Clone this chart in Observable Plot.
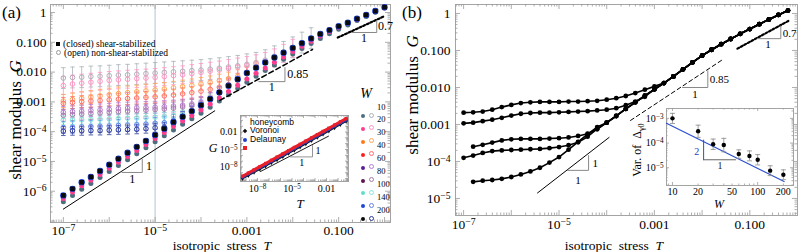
<!DOCTYPE html>
<html><head><meta charset="utf-8">
<script src="https://cdn.jsdelivr.net/npm/d3@7"></script>
<script src="https://cdn.jsdelivr.net/npm/@observablehq/plot@0.6"></script>
<style>
html,body{margin:0;padding:0;background:#fff}
#root{position:relative;width:800px;height:252px;overflow:hidden;font-family:"Liberation Serif","Times New Roman",serif;color:#000}
.t{position:absolute;white-space:pre;line-height:1}
</style></head><body><div id="root"></div>
<script>
// ================= DATA =================
// Panel (a): log10 of isotropic stress T for each simulated point
const logT_a = [-7,-6.8,-6.6,-6.4,-6.2,-6,-5.8,-5.6,-5.4,-5.2,-5,-4.8,-4.6,-4.4,-4.2,-4,-3.8,-3.6,-3.4,-3.2,-3,-2.8,-2.6,-2.4,-2.2,-2,-1.8,-1.6,-1.4,-1.2,-1,-0.8,-0.6,-0.4,-0.2,0];
const W = [10,20,30,40,60,80,100,140,200];
// closed (shear-stabilized), log10 G
const closedMain = [-6.14,-5.92,-5.70,-5.52,-5.32,-5.11,-4.91,-4.71,-4.51,-4.31,-4.11,-3.90,-3.68,-3.50,-3.31,-3.11,-2.90,-2.68,-2.46,-2.24,-2.03,-1.85,-1.68,-1.51,-1.35,-1.19,-1.03,-0.87,-0.72,-0.59,-0.46,-0.34,-0.21,-0.08,0.05,0.18];
const closedW20 = [-6.24,-6.03,-5.82,-5.63,-5.44,-5.23,-5.03,-4.83,-4.63,-4.43,-4.23,-4.03,-3.82,-3.64,-3.46,-3.27,-3.07,-2.86,-2.65,-2.44,-2.23,-2.04,-1.86,-1.67,-1.49,-1.31,-1.13,-0.96,-0.79,-0.64,-0.50,-0.37,-0.24,-0.10,0.03,0.16];
const closedW10 = [-6.35,-6.14,-5.93,-5.74,-5.54,-5.34,-5.14,-4.94,-4.74,-4.54,-4.34,-4.14,-3.94,-3.75,-3.57,-3.38,-3.18,-2.97,-2.76,-2.55,-2.34,-2.14,-1.95,-1.76,-1.57,-1.39,-1.21,-1.04,-0.87,-0.71,-0.56,-0.42,-0.27,-0.13,0.01,0.15];
// open (non-shear-stabilized), log10 G, from T = 1e-7 upward
const openW10 = [-2.20,-2.18,-2.17,-2.15,-2.14,-2.12,-2.10,-2.09,-2.07,-2.05,-2.03,-2.01,-1.99,-1.97,-1.95,-1.93,-1.90,-1.87,-1.83,-1.79,-1.74,-1.69,-1.60,-1.47,-1.32,-1.17,-1.01,-0.86];
const openW20 = [-2.45,-2.40,-2.37,-2.34,-2.31,-2.28,-2.26,-2.24,-2.22,-2.20,-2.18,-2.15,-2.12,-2.09,-2.05,-2.01,-1.97,-1.93,-1.88,-1.83,-1.78,-1.72,-1.64,-1.52,-1.37,-1.20];
const openW30 = [-2.97,-2.92,-2.88,-2.84,-2.80,-2.76,-2.72,-2.69,-2.66,-2.63,-2.60,-2.57,-2.53,-2.49,-2.45,-2.40,-2.35,-2.29,-2.22,-2.14,-2.03,-1.85];
const openW40 = [-3.05,-3.02,-2.99,-2.97,-2.95,-2.93,-2.91,-2.89,-2.87,-2.85,-2.83,-2.80,-2.77,-2.73,-2.69,-2.64,-2.58,-2.51,-2.42,-2.24,-2.03];
const openW60 = [-3.35,-3.33,-3.31,-3.29,-3.27,-3.25,-3.23,-3.21,-3.20,-3.19,-3.18,-3.16,-3.14,-3.11,-3.07,-3.02,-2.88,-2.70,-2.46];
const openW80 = [-3.45,-3.43,-3.41,-3.39,-3.37,-3.35,-3.33,-3.31,-3.30,-3.28,-3.26,-3.24,-3.21,-3.17,-3.12,-3.06,-2.90,-2.69];
const openW100 = [-3.62,-3.61,-3.60,-3.59,-3.58,-3.57,-3.56,-3.55,-3.54,-3.53,-3.52,-3.50,-3.47,-3.43,-3.30,-3.13,-2.92];
const openW140 = [-3.86,-3.85,-3.84,-3.83,-3.82,-3.81,-3.79,-3.78,-3.77,-3.75,-3.72,-3.70,-3.62,-3.52,-3.34,-3.14];
const openW200 = [-3.98,-3.97,-3.97,-3.96,-3.96,-3.95,-3.94,-3.93,-3.92,-3.90,-3.87,-3.85,-3.66,-3.49,-3.31];
const openErr = [0.35,0.3,0.22,0.2,0.2,0.2,0.15,0.2,0.15]; // half error bar, decades
// slope guides (log10 T, log10 G)
const slope1A = [[-7,-6.6],[-3.7,-3.3]];
const tri1A = [[-5.72,-5.37],[-5.28,-5.37],[-5.28,-4.93]];
const slope085A = [[-3.59,-2.95],[-1.57,-1.24]];
const tri085A = [[-2.74,-2.32],[-2.17,-2.32],[-2.17,-1.85]];
const slope07A = [[-1.02,-0.84],[0.0,-0.12]];
const tri07A = [[-0.72,-0.67],[-0.17,-0.67],[-0.17,-0.28]];
const triSideA = [["1",-5.2,-5.15],["0.85",-2.12,-2.08],["0.7",-0.14,-0.47]];
const triBaseA = [["1",-5.5,-5.6],["1",-2.46,-2.52],["1",-0.45,-0.87]];
// axis ticks
const xTicksA = [1e-7,1e-5,1e-3,1e-1], xLabelsA = ["10^\u22127","10^\u22125","0.001","0.100"];
const yTicksA = [1,0.1,0.01,0.001,1e-4,1e-5,1e-6], yLabelsA = ["1","0.100","0.010","0.001","10^\u22124","10^\u22125","10^\u22126"];

// Inset (a): G vs T for three networks
const logT_ia = [-9.3,-8.8,-8.3,-7.8,-7.3,-6.8,-6.3,-5.8,-5.3,-4.8,-4.3,-3.8,-3.3,-2.8,-2.3,-1.8,-1.3,-0.8,-0.3];
const honeycomb = [-9.85,-9.32,-8.78,-8.24,-7.70,-7.16,-6.62,-6.07,-5.53,-4.98,-4.43,-3.88,-3.33,-2.78,-2.23,-1.68,-1.13,-0.58,-0.03];
const voronoi = [-9.72,-9.18,-8.64,-8.10,-7.56,-7.02,-6.47,-5.92,-5.38,-4.83,-4.28,-3.73,-3.18,-2.63,-2.08,-1.53,-0.98,-0.43,0.12];
const delaunay = [-9.60,-9.05,-8.50,-7.95,-7.40,-6.85,-6.30,-5.75,-5.20,-4.65,-4.10,-3.55,-3.00,-2.45,-1.90,-1.35,-0.80,-0.25,0.30];
const slopeIA = [[-7.74,-8.78],[-1.83,-2.72]];
const triIA = [[-5.13,-6.28],[-3.22,-6.28],[-3.22,-4.33]];
const triSideIA = [["1",-2.95,-5.2]], triBaseIA = [["1",-4.15,-7.25]];
const xTicksIA = [1e-8,1e-5,1e-2], xLabelsIA = ["10^\u22128","10^\u22125","0.01"];
const yTicksIA = [1e-2,1e-5,1e-8], yLabelsIA = ["0.01","10^\u22125","10^\u22128"];

// Panel (b): log10 T grid and log10 G curves
const logT_b = [-7,-6.8,-6.6,-6.4,-6.2,-6,-5.8,-5.6,-5.4,-5.2,-5,-4.8,-4.6,-4.4,-4.2,-4,-3.8,-3.6,-3.4,-3.2,-3,-2.8,-2.6,-2.4,-2.2,-2,-1.8,-1.6,-1.4,-1.2,-1,-0.8,-0.6,-0.4,-0.2];
const masterB = [-2.95,-2.77,-2.58,-2.40,-2.22,-2.05,-1.88,-1.70,-1.51,-1.32,-1.14,-0.98,-0.83,-0.69,-0.55,-0.42,-0.29,-0.16,-0.04,0.08]; // grid index 15..34
const curveB1 = [-2.68,-2.67,-2.65,-2.60,-2.53,-2.47,-2.42,-2.40,-2.39,-2.39,-2.39,-2.38,-2.38,-2.37,-2.36,-2.33,-2.29,-2.23,-2.15,-2.06,-1.97];
const curveB2 = [-2.97,-2.95,-2.91,-2.87,-2.82,-2.76,-2.71,-2.69,-2.68,-2.68,-2.67,-2.66,-2.65,-2.64,-2.62,-2.60,-2.56,-2.48,-2.38,-2.25];
const curveB3 = [-3.60,-3.55,-3.49,-3.43,-3.40,-3.39,-3.39,-3.39,-3.38,-3.37,-3.35,-3.31,-3.25,-3.13];
const curveB4 = [-3.90,-3.84,-3.77,-3.72,-3.70,-3.69,-3.68,-3.67,-3.66,-3.64,-3.61,-3.56,-3.48,-3.33,-3.12];
const curveB5 = [-4.55,-4.52,-4.50,-4.47,-4.42,-4.35,-4.27,-4.17,-4.03,-3.88,-3.68,-3.47,-3.26,-3.07];
const curveStartB = [0,0,1,0,1];
const slope1B = [[-5.45,-4.85],[-3.95,-3.35]];
const tri1B = [[-4.82,-4.24],[-4.38,-4.24],[-4.38,-3.84]];
const slope085B = [[-3.5,-2.89],[-1.55,-1.23]];
const tri085B = [[-2.41,-2.0],[-1.88,-2.0],[-1.88,-1.55]];
const slope07B = [[-1.26,-0.95],[-0.19,-0.2]];
const tri07B = [[-0.84,-0.68],[-0.35,-0.68],[-0.35,-0.34]];
const triSideB = [["1",-4.3,-4.05],["0.85",-1.84,-1.78],["0.7",-0.31,-0.53]];
const triBaseB = [["1",-4.6,-4.5],["1",-2.15,-2.2],["1",-0.62,-0.84]];
const xTicksB = xTicksA, xLabelsB = xLabelsA, yTicksB = [1,0.1,0.01,0.001,1e-4,1e-5], yLabelsB = ["1","0.100","0.010","0.001","10^\u22124","10^\u22125"];

// Inset (b): variance of Delta_gamma0 vs W
const Wi = [10,20,30,40,60,80,100,140,200];
const varD = [1.0e-3,3.0e-4,9.0e-5,8.3e-5,3.6e-5,3.0e-5,2.1e-5,7.6e-6,5.2e-6];
const varLo = [6.2e-4,1.7e-4,5.5e-5,4.4e-5,2.4e-5,1.9e-5,1.3e-5,4.8e-6,3.3e-6];
const varHi = [1.6e-3,5.3e-4,1.45e-4,1.55e-4,5.3e-5,4.8e-5,3.4e-5,1.2e-5,8.2e-6];
const fitB = [[8.5,6.3e-4],[204,2.75e-6]];
const triVertB = [[23.2,1.32e-4],[23.2,2.1e-5]];
const triHorzB = [[23.2,2.1e-5],[55,2.1e-5]];
const triLabIB = [["2",19.3,4.4e-5,"#2040c0"],["1",36,1.15e-5,"#222"]];
const xTicksIB = [10,20,50,100,200], xLabelsIB = ["10","20","50","100","200"];
const yTicksIB = [1e-3,1e-4,1e-5], yLabelsIB = ["10^\u22123","10^\u22124","10^\u22125"];

// ================= STYLE =================
const closedColors = ["#4e6e80","#ff3d8e","#ff7a1a","#ff1f1f","#5c1d9c","#5e1750","#5ee0c8","#1f46d8","#0a0a0a"];
const openColors = ["#aab4b8","#ff97c4","#ffa65a","#ff6e6e","#b67ad6","#a87aa8","#86eadb","#6680ee","#2d3c96"];
const frameCol = "#a4a4a4", tickCol = "#9a9a9a";
const SERIF = "'Liberation Serif','Times New Roman',serif";

// ================= HELPERS =================
const L10 = v => 10 ** v;
const root = document.getElementById("root");
const NS = "http://www.w3.org/2000/svg";
function logTicks(lo, hi) {
  const out = [];
  for (let e = Math.floor(Math.log10(lo)) - 1; e <= Math.ceil(Math.log10(hi)); e++)
    for (let m = 1; m < 10; m++) { const v = m * Math.pow(10, e); if (v >= lo * 1.0001 && v <= hi * 0.9999) out.push({v, major: m === 1}); }
  return out;
}
function frameTicks(xd, yd, fw, fh, Lmaj, Lmin) {
  const xt = logTicks(...xd), yt = logTicks(...yd), res = [];
  for (const maj of [true, false]) {
    const len = maj ? Lmaj : Lmin;
    const xs = xt.filter(d => d.major === maj), ys = yt.filter(d => d.major === maj);
    const o = {stroke: tickCol, strokeWidth: 0.8};
    res.push(Plot.ruleX(xs, {x: "v", insetTop: fh - len, ...o}));
    res.push(Plot.ruleX(xs, {x: "v", insetBottom: fh - len, ...o}));
    res.push(Plot.ruleY(ys, {y: "v", insetRight: fw - len, ...o}));
    res.push(Plot.ruleY(ys, {y: "v", insetLeft: fw - len, ...o}));
  }
  return res;
}
function fmt(vals, labels) { const m = new Map(vals.map((v, i) => [v, labels[i]])); return d => m.get(d); }
function supers(svg) {
  svg.querySelectorAll("text").forEach(t => {
    if (t.children.length) return;
    const m = t.textContent.match(/^(.*)\^(.+)$/);
    if (!m) return;
    t.textContent = m[1];
    const ts = document.createElementNS(NS, "tspan");
    ts.setAttribute("dy", "-0.42em"); ts.setAttribute("font-size", "72%");
    ts.textContent = m[2];
    t.appendChild(ts);
  });
}
function place(svg, left, top) {
  svg.style.position = "absolute"; svg.style.left = left + "px"; svg.style.top = top + "px";
  svg.style.overflow = "visible"; svg.style.background = "transparent";
  supers(svg); root.appendChild(svg);
}
function html(str, css) { const d = document.createElement("div"); d.className = "t"; d.innerHTML = str; Object.assign(d.style, css); root.appendChild(d); return d; }
const hline = {draw(ctx, size) { const r = Math.sqrt(size / Math.PI); ctx.moveTo(-r, 0); ctx.lineTo(r, 0); }};
const xy = {x: d => L10(d[0]), y: d => L10(d[1])};

// ================= PANEL (a) =================
{
  const xd = [L10(-7.28), L10(0.13)], yd = [L10(-7.05), L10(0.27)];
  const fw = 340, fh = 218;
  const openSets = [openW10,openW20,openW30,openW40,openW60,openW80,openW100,openW140,openW200];
  const openRows = openSets.flatMap((arr, s) => arr.map((g, k) => ({T: L10(logT_a[k]), G: L10(g), lo: L10(g - openErr[s]), hi: L10(g + openErr[s]), s})));
  const closedSets = [closedW10, closedW20, closedMain, closedMain, closedMain, closedMain, closedMain, closedMain, closedMain];
  const closedRows = closedSets.flatMap((arr, s) => arr.map((g, k) => ({T: L10(logT_a[k]), G: L10(g), s})));
  const oc = d => openColors[d.s];
  const svg = Plot.plot({
    width: 400, height: 252, marginLeft: 50, marginRight: 10, marginTop: 4, marginBottom: 30,
    x: {type: "log", domain: xd}, y: {type: "log", domain: yd},
    style: {fontFamily: SERIF, fontSize: "13.5px", color: "#000"},
    marks: [
      Plot.frame({stroke: frameCol}),
      Plot.ruleX([1e-5], {stroke: "#c6d7dc", strokeWidth: 1.4}),
      ...frameTicks(xd, yd, fw, fh, 5, 2.5),
      Plot.ruleX(openRows, {x: "T", y1: "lo", y2: "hi", stroke: oc, strokeWidth: 0.8}),
      Plot.dot(openRows, {x: "T", y: "lo", symbol: hline, r: 2.3, stroke: oc, strokeWidth: 0.8}),
      Plot.dot(openRows, {x: "T", y: "hi", symbol: hline, r: 2.3, stroke: oc, strokeWidth: 0.8}),
      Plot.dot(openRows, {x: "T", y: "G", r: 2.3, stroke: oc, fill: "none", strokeWidth: 1}),
      Plot.dot(closedRows.filter(d => d.s < 7), {x: "T", y: "G", r: 2.5, fill: d => closedColors[d.s]}),
      Plot.dot(closedRows.filter(d => d.s === 7), {x: "T", y: "G", r: 3.2, fill: closedColors[7]}),
      Plot.dot(closedRows.filter(d => d.s === 8), {x: "T", y: "G", r: 2.6, symbol: "square", fill: closedColors[8]}),
      Plot.line(slope1A, {...xy, stroke: "#000", strokeWidth: 1}),
      Plot.line(tri1A, {...xy, stroke: "#888", strokeWidth: 1}),
      Plot.line(slope085A, {...xy, stroke: "#000", strokeWidth: 1.5, strokeDasharray: "5,3"}),
      Plot.line(tri085A, {...xy, stroke: "#888", strokeWidth: 1}),
      Plot.line(slope07A, {...xy, stroke: "#000", strokeWidth: 2.2, strokeDasharray: "2,2"}),
      Plot.line(tri07A, {...xy, stroke: "#888", strokeWidth: 1}),
      Plot.text(triSideA, {x: d => L10(d[1]), y: d => L10(d[2]), text: d => d[0], textAnchor: "start", fontSize: 12}),
      Plot.text(triBaseA, {x: d => L10(d[1]), y: d => L10(d[2]), text: d => d[0], fontSize: 12}),
      Plot.axisX({ticks: xTicksA, tickFormat: fmt(xTicksA, xLabelsA), tickSize: 0, tickPadding: 3, label: null}),
      Plot.axisY({ticks: yTicksA, tickFormat: fmt(yTicksA, yLabelsA), tickSize: 0, tickPadding: 4, label: null})
    ]
  });
  place(svg, 0, 0);
}

// ================= INSET (a) =================
{
  const xd = [L10(-9.48), L10(-0.09)], yd = [L10(-10.5), L10(0.83)];
  const fw = 108, fh = 66;
  const rows = (arr) => arr.map((g, k) => ({T: L10(logT_ia[k]), G: L10(g)}));
  const svg = Plot.plot({
    width: 150, height: 98, marginLeft: 35, marginRight: 7, marginTop: 3, marginBottom: 29,
    x: {type: "log", domain: xd}, y: {type: "log", domain: yd},
    style: {fontFamily: SERIF, fontSize: "10px", color: "#000"},
    marks: [
      Plot.frame({stroke: frameCol, fill: "#fff"}),
      ...frameTicks(xd, yd, fw, fh, 3, 1.5),
      Plot.line(rows(honeycomb), {x: "T", y: "G", stroke: "#111", strokeWidth: 3}),
      Plot.dot(rows(honeycomb), {x: "T", y: "G", symbol: "diamond", r: 2, fill: "#111"}),
      Plot.line(rows(voronoi), {x: "T", y: "G", stroke: "#2040c8", strokeWidth: 3}),
      Plot.dot(rows(voronoi), {x: "T", y: "G", r: 1.8, fill: "#2040c8"}),
      Plot.line(rows(delaunay), {x: "T", y: "G", stroke: "#e8202a", strokeWidth: 3}),
      Plot.dot(rows(delaunay), {x: "T", y: "G", symbol: "square", r: 1.8, fill: "#e8202a"}),
      Plot.line(slopeIA, {...xy, stroke: "#000", strokeWidth: 0.9}),
      Plot.line(triIA, {...xy, stroke: "#888", strokeWidth: 0.9}),
      Plot.text(triSideIA, {x: d => L10(d[1]), y: d => L10(d[2]), text: d => d[0], textAnchor: "start", fontSize: 10}),
      Plot.text(triBaseIA, {x: d => L10(d[1]), y: d => L10(d[2]), text: d => d[0], fontSize: 10}),
      Plot.axisX({ticks: xTicksIA, tickFormat: fmt(xTicksIA, xLabelsIA), tickSize: 0, tickPadding: 3, label: null}),
      Plot.axisY({ticks: yTicksIA, tickFormat: fmt(yTicksIA, yLabelsIA), tickSize: 0, tickPadding: 3, label: null})
    ]
  });
  place(svg, 205, 112);
}

// ================= PANEL (b) =================
{
  const xd = [L10(-7.17), L10(0)], yd = [L10(-5.46), L10(0.243)];
  const fw = 342, fh = 211;
  const heads = [curveB1, curveB2, curveB3, curveB4, curveB5];
  const rows = heads.flatMap((h, c) => {
    const s = curveStartB[c], out = h.map((g, j) => ({T: L10(logT_b[s + j]), G: L10(g), c}));
    for (let k = s + h.length; k < logT_b.length; k++) out.push({T: L10(logT_b[k]), G: L10(masterB[k - 15]), c});
    return out;
  });
  const svg = Plot.plot({
    width: 400, height: 252, marginLeft: 55, marginRight: 3, marginTop: 4, marginBottom: 37,
    x: {type: "log", domain: xd}, y: {type: "log", domain: yd},
    style: {fontFamily: SERIF, fontSize: "13.5px", color: "#000"},
    marks: [
      Plot.frame({stroke: frameCol}),
      ...frameTicks(xd, yd, fw, fh, 5, 2.5),
      Plot.line(rows, {x: "T", y: "G", z: "c", stroke: "#000", strokeWidth: 1.6}),
      Plot.dot(rows, {x: "T", y: "G", r: 2.4, fill: "#000"}),
      Plot.line(slope1B, {...xy, stroke: "#000", strokeWidth: 1}),
      Plot.line(tri1B, {...xy, stroke: "#888", strokeWidth: 1}),
      Plot.line(slope085B, {...xy, stroke: "#000", strokeWidth: 1, strokeDasharray: "4,3"}),
      Plot.line(tri085B, {...xy, stroke: "#888", strokeWidth: 1}),
      Plot.line(slope07B, {...xy, stroke: "#000", strokeWidth: 2.2, strokeDasharray: "2,2"}),
      Plot.line(tri07B, {...xy, stroke: "#888", strokeWidth: 1}),
      Plot.text(triSideB, {x: d => L10(d[1]), y: d => L10(d[2]), text: d => d[0], textAnchor: "start", fontSize: 11}),
      Plot.text(triBaseB, {x: d => L10(d[1]), y: d => L10(d[2]), text: d => d[0], fontSize: 11}),
      Plot.axisX({ticks: xTicksB, tickFormat: fmt(xTicksB, xLabelsB), tickSize: 0, tickPadding: 4, label: null}),
      Plot.axisY({ticks: yTicksB, tickFormat: fmt(yTicksB, yLabelsB), tickSize: 0, tickPadding: 5, label: null})
    ]
  });
  place(svg, 400, 0);
}

// ================= INSET (b) =================
{
  const xd = [L10(0.93), L10(2.42)], yd = [L10(-5.72), L10(-2.6)];
  const fw = 127, fh = 77;
  const pts = Wi.map((w, i) => ({W: w, V: varD[i], lo: varLo[i], hi: varHi[i]}));
  const svg = Plot.plot({
    width: 172, height: 110, marginLeft: 41, marginRight: 4, marginTop: 5, marginBottom: 28,
    x: {type: "log", domain: xd}, y: {type: "log", domain: yd},
    style: {fontFamily: SERIF, fontSize: "10px", color: "#000"},
    marks: [
      Plot.frame({stroke: frameCol, fill: "#fff"}),
      ...frameTicks(xd, yd, fw, fh, 3, 1.5),
      Plot.line(fitB, {x: d => d[0], y: d => d[1], stroke: "#2a4fd0", strokeWidth: 1.2}),
      Plot.line(triVertB, {x: d => d[0], y: d => d[1], stroke: "#2a4fd0", strokeWidth: 1}),
      Plot.line(triHorzB, {x: d => d[0], y: d => d[1], stroke: "#666", strokeWidth: 1}),
      Plot.text(triLabIB, {x: d => d[1], y: d => d[2], text: d => d[0], fill: d => d[3], fontSize: 10}),
      Plot.ruleX(pts, {x: "W", y1: "lo", y2: "hi", stroke: "#888", strokeWidth: 0.8}),
      Plot.dot(pts, {x: "W", y: "lo", symbol: hline, r: 2.5, stroke: "#888", strokeWidth: 0.8}),
      Plot.dot(pts, {x: "W", y: "hi", symbol: hline, r: 2.5, stroke: "#888", strokeWidth: 0.8}),
      Plot.dot(pts, {x: "W", y: "V", r: 2.2, fill: "#000"}),
      Plot.axisX({ticks: xTicksIB, tickFormat: fmt(xTicksIB, xLabelsIB), tickSize: 0, tickPadding: 2, label: null}),
      Plot.axisY({ticks: yTicksIB, tickFormat: fmt(yTicksIB, yLabelsIB), tickSize: 0, tickPadding: 3, label: null})
    ]
  });
  place(svg, 625, 103);
}

// ================= TEXT / LEGENDS =================
html("(a)", {left: "2px", top: "4px", fontSize: "17px"});
html("(b)", {left: "402px", top: "4px", fontSize: "17px"});
html("isotropic  stress  <i>T</i>", {left: "222px", top: "238.5px", fontSize: "13.5px", transform: "translateX(-50%)"});
html("isotropic  stress  <i>T</i>", {left: "614px", top: "238.5px", fontSize: "13.5px", transform: "translateX(-50%)"});
html("shear modulus  <i>G</i>", {left: "15px", top: "120px", fontSize: "17px", transform: "translate(-50%,-50%) rotate(-90deg)"});
html("shear modulus  <i>G</i>", {left: "412px", top: "95px", fontSize: "17px", transform: "translate(-50%,-50%) rotate(-90deg)"});
// inset axis titles
html("<i>G</i>", {left: "213px", top: "148px", fontSize: "12px", transform: "translate(-50%,-50%)"});
html("<i>T</i>", {left: "300px", top: "203px", fontSize: "13px", transform: "translate(-50%,-50%)"});
html("<i>W</i>", {left: "719px", top: "204px", fontSize: "12px", transform: "translate(-50%,-50%)"});
html("Var. of  \u0394<span style='font-size:70%;position:relative;top:0.35em'>\u03b30</span>", {left: "637px", top: "150px", fontSize: "12px", transform: "translate(-50%,-50%) rotate(-90deg)"});
// closed/open legend
html("<span style='display:inline-block;width:4px;height:4px;background:#000;margin-right:3px;vertical-align:1px'></span>(closed) shear-stabilized", {left: "56px", top: "40px", fontSize: "9.5px"});
html("<span style='display:inline-block;width:3px;height:3px;border:1px solid #999;border-radius:50%;margin-right:3px;vertical-align:1px'></span>(open) non-shear-stabilized", {left: "56px", top: "49px", fontSize: "9.5px"});
// W legend
html("<i>W</i>", {left: "366px", top: "94px", fontSize: "14px", transform: "translate(-50%,-50%)"});
W.forEach((w, i) => {
  const y = 107 + 12.9 * i;
  html(`<span style="display:inline-block;width:4px;height:4px;border-radius:50%;background:${closedColors[i]}"></span>`, {left: "361px", top: (y - 2) + "px"});
  html(`<span style="display:inline-block;width:3px;height:3px;border-radius:50%;border:1px solid ${openColors[i]}"></span>`, {left: "369px", top: (y - 2.5) + "px"});
  html(String(w), {left: "377px", top: (y - 4.5) + "px", fontSize: "8.5px"});
});
// inset (a) legend
const insetLegend = [["honeycomb", "#111", "diamond"], ["Voronoi", "#2040c8", "circle"], ["Delaunay", "#e8202a", "square"]];
insetLegend.forEach(([name, col, shape], i) => {
  const y = 122 + 8.5 * i;
  const sh = shape === "circle" ? "border-radius:50%" : shape === "diamond" ? "transform:rotate(45deg) scale(0.8)" : "";
  html(`<span style="display:inline-block;width:4px;height:4px;background:${col};${sh}"></span>`, {left: "243px", top: (y - 2) + "px"});
  html(name, {left: "250px", top: (y - 4.5) + "px", fontSize: "8.5px", fontFamily: "'Liberation Sans',Arial,sans-serif"});
});
</script></body></html>
